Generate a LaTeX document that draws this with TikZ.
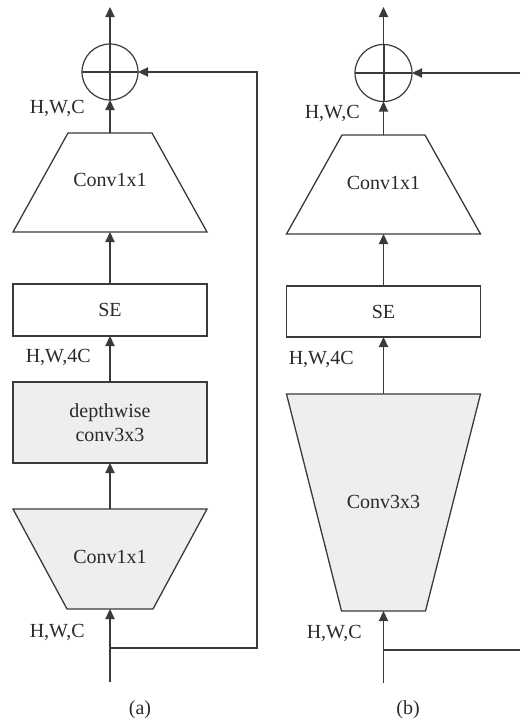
\documentclass[tikz,border=0pt]{standalone}
\usepackage{fontspec}
\setmainfont{Liberation Serif}
\usetikzlibrary{arrows.meta,backgrounds}
\definecolor{lc}{HTML}{3A3A3A}
\definecolor{tc}{HTML}{2A2A2A}
\definecolor{fc}{HTML}{EDEEF0}
\begin{document}
\begin{tikzpicture}[x=0.5pt,y=-0.5pt,
  every node/.style={font=\fontsize{10}{12}\selectfont, text=tc},
  line/.style={draw=lc, line width=0.65pt},
  arr/.style={line, -{Triangle[length=5pt,width=4.6pt]}},
  rectbox/.style={draw=lc, line width=0.65pt, minimum width=97pt, inner sep=0pt, outer sep=0pt, align=center},
  trapbox/.style={inner sep=0pt, outer sep=0pt, minimum width=97pt},
  trapline/.style={draw=lc, line width=0.65pt, line join=miter},
  sumnode/.style={circle, draw=lc, line width=0.6pt, minimum size=28pt, inner sep=0pt, outer sep=0pt},
  plusline/.style={draw=lc, line width=1pt},
  lbl/.style={inner sep=0pt}
]
\useasboundingbox (0,0) rectangle (520,723);

% ---------------- panel (a) ----------------
\node[sumnode] (suma) at (110,72) {};
\coordinate (oa) at (110,7);
\node[trapbox, minimum height=49.5pt] (c1a) at (110,182.5) {};
\node at (110,180) {Conv1x1};
\node[rectbox, minimum height=26pt] (sea) at (110,310) {SE};
\node[rectbox, minimum height=40.5pt, fill=fc] (dwa) at (110,422.5) {depthwise\\conv3x3};
\node[trapbox, minimum height=50pt] (c0a) at (110,559) {};
\node at (110,557) {Conv1x1};
\coordinate (ina) at (110,682);
\coordinate (ba) at (110,648);
\coordinate (ra) at (257,648);
\node[lbl, anchor=east] (la1) at (85,108) {H,W,C};
\node[lbl, anchor=east] (la2) at (91,357) {H,W,4C};
\node[lbl, anchor=east] (la3) at (85,632) {H,W,C};
\node[lbl] (capa) at (140,710) {(a)};

\begin{scope}[on background layer]
\draw[trapline, fill=white] (c1a.south west) -- (c1a.south east)
   -- ([xshift=-27.5pt]c1a.north east) -- ([xshift=27.5pt]c1a.north west) -- cycle;
\draw[trapline, fill=fc] (c0a.north west) -- (c0a.north east)
   -- ([xshift=-27pt]c0a.south east) -- ([xshift=27pt]c0a.south west) -- cycle;
\end{scope}

\draw[plusline] (suma.north) -- (suma.south);
\draw[plusline] (suma.west) -- (suma.east);
\draw[arr] (suma.north) -- (oa);
\draw[arr] (c1a.north) -- (suma.south);
\draw[arr] (sea.north) -- (c1a.south);
\draw[arr] (dwa.north) -- (sea.south);
\draw[arr] (c0a.north) -- (dwa.south);
\draw[arr] (ina) -- (c0a.south);
\draw[arr] (ba) -- (ra) |- (suma.east);

% ---------------- panel (b) ----------------
\node[sumnode, minimum size=28.5pt] (sumb) at (383.5,73) {};
\coordinate (ob) at (383.5,7);
\node[trapbox, minimum height=49.5pt] (c1b) at (383.5,184.5) {};
\node at (383.5,183) {Conv1x1};
\node[rectbox, minimum height=25.5pt] (seb) at (383.5,311.5) {SE};
\node[trapbox, minimum height=108.5pt] (c3b) at (383.5,502.5) {};
\node at (383.5,502) {Conv3x3};
\coordinate (inb) at (383.5,683);
\coordinate (bb) at (383.5,650);
\coordinate (rb1) at (520,650);
\coordinate (rb2) at (520,73);
\node[lbl, anchor=east] (lb1) at (360,113) {H,W,C};
\node[lbl, anchor=east] (lb2) at (354,359) {H,W,4C};
\node[lbl, anchor=east] (lb3) at (362,633) {H,W,C};
\node[lbl] (capb) at (408,710) {(b)};

\begin{scope}[on background layer]
\draw[trapline, fill=white] (c1b.south west) -- (c1b.south east)
   -- ([xshift=-27.75pt]c1b.north east) -- ([xshift=27.75pt]c1b.north west) -- cycle;
\draw[trapline, fill=fc] (c3b.north west) -- (c3b.north east)
   -- ([xshift=-27.5pt]c3b.south east) -- ([xshift=27.5pt]c3b.south west) -- cycle;
\end{scope}

\draw[plusline] (sumb.north) -- (sumb.south);
\draw[plusline] (sumb.west) -- (sumb.east);
\draw[arr] (sumb.north) -- (ob);
\draw[arr] (c1b.north) -- (sumb.south);
\draw[arr] (seb.north) -- (c1b.south);
\draw[arr] (c3b.north) -- (seb.south);
\draw[arr] (inb) -- (c3b.south);
\draw[line] (bb) -- (rb1);
\draw[arr] (rb2) -- (sumb.east);
\end{tikzpicture}
\end{document}
